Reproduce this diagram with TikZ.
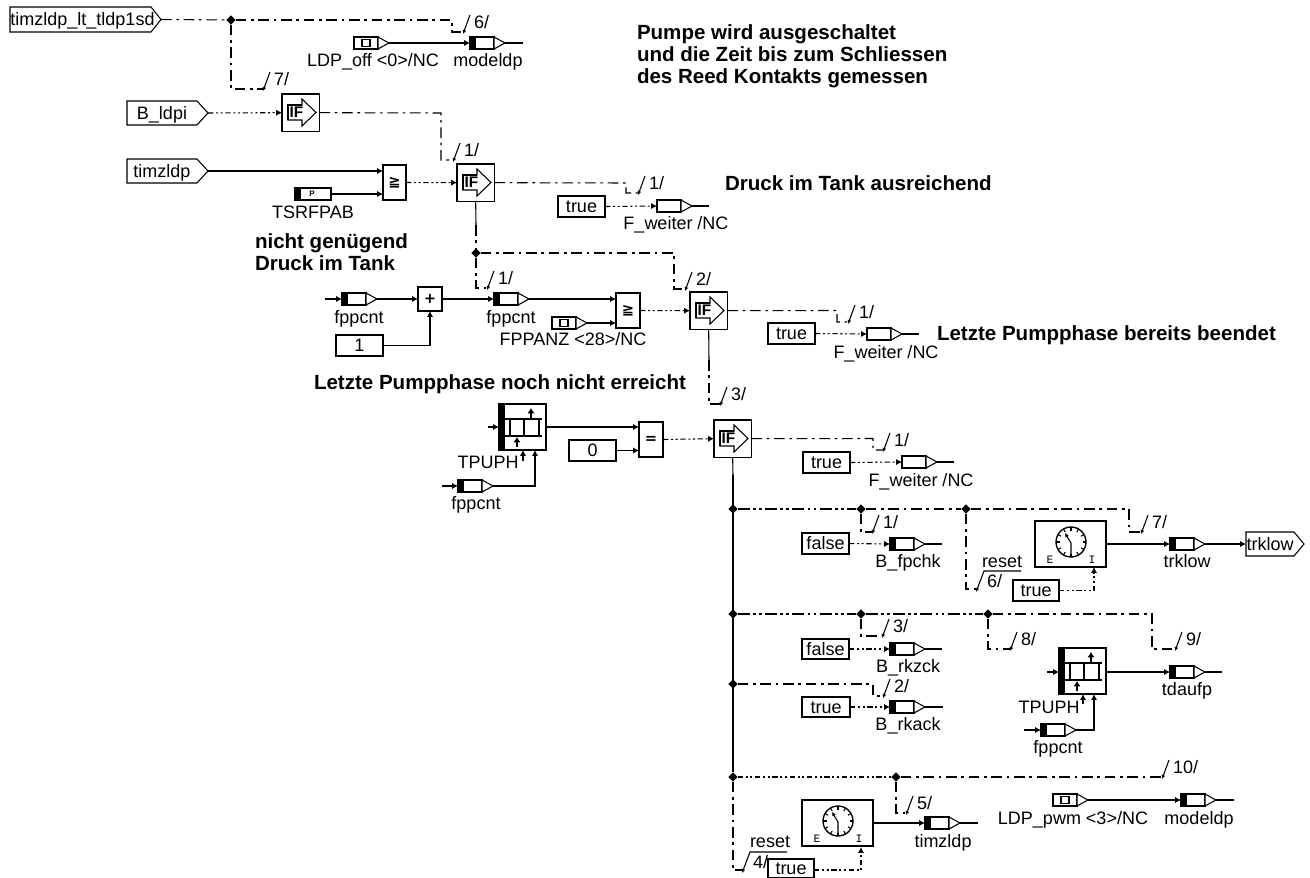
\documentclass[tikz,border=0pt]{standalone}
\usepackage{fontspec}
\setmainfont{Liberation Sans}
\newfontfamily\dvfont{DejaVu Sans}
\newfontfamily\mofont{Liberation Mono}
\usetikzlibrary{arrows.meta,shapes.geometric}
\tikzset{
  ln/.style={line width=0.8pt,line cap=butt},
  blk/.style={draw,ln,fill=white,inner sep=0pt,outer sep=0pt},
  lbl/.style={inner sep=0pt,outer sep=0pt,font=\fontsize{13.5}{15}\selectfont,text height=11pt,text depth=2pt},
  note/.style={inner sep=0pt,outer sep=0pt,font=\fontsize{15.4}{16.5}\selectfont\bfseries,align=left,anchor=north west},
  jct/.style={diamond,fill=black,inner sep=0pt,minimum width=7pt,minimum height=7pt,outer sep=0pt},
  wire/.style={ln},
  arr/.style={-{Latex[length=4.4pt,width=4.6pt]}},
  sig/.style={ln,dash pattern=on 8pt off 3.5pt on 2pt off 3.5pt},
  sigd/.style={ln,dash pattern=on 4pt off 2pt on 1.5pt off 2pt on 1.5pt off 2pt},
  sigt/.style={line width=1.2pt,dash pattern=on 9pt off 2.5pt on 2pt off 2.5pt on 2pt off 2.5pt},
  bus/.style={line width=1.5pt},
  slash/.style={ln,{Latex[length=3pt,width=3pt]}-},
}
% box: name x1 y1 x2 y2 text
\newcommand\Mbox[6]{\node[blk,minimum width={(#4-#2)*0.75pt},minimum height={(#5-#3)*0.75pt},font=\fontsize{13.5}{15}\selectfont,text height=11pt,text depth=2pt] (#1) at ({(#2+#4)/2},{(#3+#5)/2}) {#6};}
% symbol box: name x1 y1 x2 y2 symbol
\newcommand\Msym[6]{\node[blk,minimum width={(#4-#2)*0.75pt},minimum height={(#5-#3)*0.75pt}] (#1) at ({(#2+#4)/2},{(#3+#5)/2}) {\dvfont\bfseries\fontsize{11}{11}\selectfont #6};}
% variable with black bar: name x y
\newcommand\Mvar[3]{\node[blk,minimum width=18pt,minimum height=9pt,anchor=west] (#1) at (#2,#3) {};
  \fill ({#2},{#3-6}) rectangle ({#2+5.5},{#3+6});
  \draw[ln,fill=white] ({#2+24},{#3-6}) -- ({#2+35},{#3}) -- ({#2+24},{#3+6}) -- cycle;
  \coordinate (#1-o) at ({#2+35},{#3});}
% variable without bar
\newcommand\Mvarn[3]{\node[blk,minimum width=18pt,minimum height=9pt,anchor=west] (#1) at (#2,#3) {};
  \draw[ln,fill=white] ({#2+24},{#3-6}) -- ({#2+35},{#3}) -- ({#2+24},{#3+6}) -- cycle;
  \coordinate (#1-o) at ({#2+35},{#3});}
% constant
\newcommand\Mconst[3]{\node[blk,minimum width=18pt,minimum height=9pt,anchor=west] (#1) at (#2,#3) {};
  \draw[ln] ({#2+8},{#3-3.5}) rectangle ({#2+16},{#3+3.5});
  \draw[ln,fill=white] ({#2+24},{#3-6}) -- ({#2+35},{#3}) -- ({#2+24},{#3+6}) -- cycle;
  \coordinate (#1-o) at ({#2+35},{#3});}
% IF block: name x1 y1
\newcommand\Mif[3]{\node[blk,minimum width=28pt,minimum height=28pt,anchor=north west] (#1) at (#2,#3) {};
  \draw[ln] ({#2+6},{#3+11}) -- ({#2+20},{#3+11}) -- ({#2+20},{#3+5}) -- ({#2+34},{#3+18.5}) -- ({#2+20},{#3+32}) -- ({#2+20},{#3+26}) -- ({#2+6},{#3+26}) -- cycle;
  \draw[line width=1.3pt] ({#2+6},{#3+26}) -- ({#2+6},{#3+11}) -- ({#2+20},{#3+11});
  \node[inner sep=0pt,font=\fontsize{11.5}{12}\selectfont\bfseries] (#1-t) at ({#2+14.5},{#3+18.5}) {IF};}
% port: name x1 x2 tip y1 y2 text
\newcommand\Mport[7]{\draw[ln] (#2,#5) -- (#3,#5) -- (#4,{(#5+#6)/2}) -- (#3,#6) -- (#2,#6) -- cycle;
  \node[inner sep=0pt,outer sep=0pt,font=\fontsize{13.5}{15}\selectfont,text height=11pt,text depth=2pt,minimum width={(#3-#2)*0.75pt}] (#1) at ({(#2+#3)/2},{(#5+#6)/2}) {#7};
  \coordinate (#1-o) at (#4,{(#5+#6)/2});}
% bus tick: name x y label
\newcommand\Mtick[4]{\coordinate (#1) at (#2,#3);
  \draw[slash] ({#2},{#3+2}) -- ({#2+7},{#3-17});
  \node[lbl,anchor=west] (#1-l) at ({#2+11},{#3-10}) {#4};}
% reset tick: name x y overline-end label
\newcommand\Mrtick[5]{\coordinate (#1) at (#2,#3);
  \draw[slash] ({#2},{#3+3}) -- ({#2+8},{#3-18}) -- (#4,{#3-18});
  \node[lbl,anchor=west] (#1-l) at ({#2+11},{#3-8}) {#5};}
% shift register: name x y
\newcommand\Mreg[3]{\node[blk,minimum width=35.25pt,minimum height=34.5pt,anchor=north west] (#1) at (#2,#3) {};
  \fill ({#2},{#3}) rectangle ({#2+5.5},{#3+46});
  \draw[line width=1.3pt] ({#2+5},{#3+15}) -- ({#2+43},{#3+15}) ({#2+5},{#3+32}) -- ({#2+43},{#3+32})
     ({#2+11},{#3+15}) -- ({#2+11},{#3+32}) ({#2+25},{#3+15}) -- ({#2+25},{#3+32}) ({#2+40},{#3+15}) -- ({#2+40},{#3+32});
  \draw[line width=1.2pt,-{Latex[length=4pt,width=5.5pt]}] ({#2+32},{#3+15}) -- ({#2+32},{#3+4});
  \draw[line width=1.2pt,-{Latex[length=4pt,width=5.5pt]}] ({#2+18},{#3+43}) -- ({#2+18},{#3+33});}
% timer: name x1 y1
\newcommand\Mtimer[3]{\node[blk,minimum width=53.25pt,minimum height=34.5pt,anchor=north west] (#1) at (#2,#3) {};
  \draw[line width=1pt] ({#2+36},{#3+21}) circle [radius=15];
  \foreach \a in {0,30,...,330} \draw[ln] ({#2+36+15*cos(\a)},{#3+21+15*sin(\a)}) -- ({#2+36+11.5*cos(\a)},{#3+21+11.5*sin(\a)});
  \draw[ln,-{Latex[length=3pt,width=3pt]}] ({#2+36},{#3+36}) -- ({#2+36},{#3+22}) -- ({#2+30},{#3+12});
  \node[inner sep=0pt,font=\fontsize{8.5}{9}\mofont] (#1-e) at ({#2+15},{#3+39}) {E};
  \node[inner sep=0pt,font=\fontsize{8.5}{9}\mofont] (#1-i) at ({#2+57},{#3+39}) {I};}
\begin{document}
\begin{tikzpicture}[x=0.75pt,y=-0.75pt]
\useasboundingbox (0,0) rectangle (1310,878);

% blocks, top part
\Mport{Pt}{10}{151}{161}{7}{32}{\kern3pt timzldp\_lt\_tldp1sd}
\node[jct] (jA) at (231,20) {};
\Mtick{t6}{463}{32}{6/}
\Mconst{cLoff}{354}{43}
\Mvar{vMode}{470}{43}
\node[lbl] (lLoff) at (373,60) {LDP\_off <0>/NC};
\node[lbl] (lMode) at (488,60) {modeldp};
\Mtick{t7a}{263}{89}{7/}
\Mport{Pb}{127}{197}{208}{101}{125}{B\_ldpi}
\Mif{ifA}{282}{94}
\Mtick{t1a}{453}{160}{1/}
\Mport{Pz}{127}{197}{208}{159}{183}{timzldp}
\Msym{cmpA}{383}{165}{406}{200}{≧}
\node[blk,minimum width=27pt,minimum height=9pt,anchor=west] (vTs) at (295,194) {};
\fill (295,188) rectangle (301,200);
\node[inner sep=0pt,font=\fontsize{6}{6}\selectfont\bfseries] (vTsP) at (312,194) {P};
\node[lbl] (lTs) at (313,212) {TSRFPAB};
\Mif{ifB}{457}{164}
\Mtick{t1b}{638}{193}{1/}
\Mbox{bT1}{558}{196}{605}{217}{true}
\Mvarn{vF1}{657}{206}
\node[lbl] (lF1) at (676,223) {F\_weiter /NC};
\node[jct] (jB) at (476,253) {};
\Mtick{t1c}{487}{288}{1/}
\Mtick{t2c}{685}{289}{2/}
\Mvar{vFa}{342}{299}
\coordinate (vFaIn) at (325,299);
\node[lbl] (lFa) at (359,317) {fppcnt};
\Msym{plus}{418}{287}{442}{311}{+}
\Mbox{b1}{336}{335}{383}{356}{1}
\Mvar{vFb}{494}{299}
\node[lbl] (lFb) at (511,317) {fppcnt};
\Mconst{cFpp}{552}{323}
\node[lbl] (lFpp) at (573,339) {FPPANZ <28>/NC};
\Msym{cmpB}{616}{293}{640}{328}{≧}
\Mif{ifC}{690}{292}
\Mtick{t1d}{848}{322}{1/}
\Mbox{bT2}{768}{323}{815}{344}{true}
\Mvarn{vF2}{867}{334}
\node[lbl] (lF2) at (886,352) {F\_weiter /NC};
\Mtick{t3}{720}{404}{3/}
\Mreg{regA}{499}{404}
\coordinate (regAIn) at (488,427);
\node[lbl] (lReg) at (488,462) {TPUPH};
\coordinate (regAsm) at (523,461);
\Mvar{vFc}{458}{486}
\coordinate (vFcIn) at (442,486);
\node[lbl] (lFc) at (476,503) {fppcnt};
\Mbox{b0}{569}{440}{616}{461}{0}
\Msym{cmpC}{639}{422}{663}{457}{=}
\Mif{ifD}{714}{420}
\Mtick{t1e}{883}{450}{1/}
\Mbox{bT3}{803}{452}{850}{473}{true}
\Mvarn{vF3}{902}{462}
\node[lbl] (lF3) at (921,480) {F\_weiter /NC};

% right column
\node[jct] (j1) at (733,509) {};
\node[jct] (j1a) at (861,509) {};
\node[jct] (j1b) at (966,509) {};
\Mtick{t1f}{872}{532}{1/}
\Mtick{t7b}{1141}{532}{7/}
\Mbox{bFa}{802}{533}{849}{554}{false}
\Mvar{vBf}{890}{544}
\coordinate (vBfE) at (942,544);
\node[lbl] (lBf) at (908,561) {B\_fpchk};
\Mrtick{t6b}{976}{589}{1021}{6/}
\node[lbl] (lRa) at (1002,561) {reset};
\Mbox{bT4}{1013}{580}{1059}{601}{true}
\Mtimer{tmA}{1035}{521}
\Mvar{vTr}{1170}{544}
\node[lbl] (lTr) at (1187,561) {trklow};
\Mport{Ptr}{1246}{1294}{1304}{532}{556}{trklow}
\node[jct] (j2) at (733,614) {};
\node[jct] (j2a) at (861,614) {};
\node[jct] (j2b) at (988,614) {};
\Mtick{t3b}{882}{636}{3/}
\Mtick{t8}{1010}{649}{8/}
\Mtick{t9}{1175}{649}{9/}
\Mbox{bFb}{802}{639}{849}{659}{false}
\Mvar{vBz}{890}{649}
\coordinate (vBzE) at (942,649);
\node[lbl] (lBz) at (908,666) {B\_rkzck};
\Mreg{regB}{1059}{648}
\coordinate (regBIn) at (1047,672);
\node[lbl] (lRb) at (1049,707) {TPUPH};
\coordinate (regBsm) at (1083,704);
\Mvar{vTd}{1170}{672}
\coordinate (vTdE) at (1222,672);
\node[lbl] (lTd) at (1187,689) {tdaufp};
\node[jct] (j3) at (733,684) {};
\Mtick{t2b}{883}{696}{2/}
\Mbox{bT5}{802}{697}{850}{717}{true}
\Mvar{vBk}{890}{707}
\coordinate (vBkE) at (943,707);
\node[lbl] (lBk) at (908,724) {B\_rkack};
\Mvar{vFd}{1041}{730}
\coordinate (vFdIn) at (1024,730);
\node[lbl] (lFd) at (1058,747) {fppcnt};
\node[jct] (j4) at (733,777) {};
\node[jct] (j4a) at (896,777) {};
\Mtick{t10}{1162}{777}{10/}
\Mtick{t5}{906}{813}{5/}
\Mconst{cPwm}{1053}{800}
\node[lbl] (lPwm) at (1073,818) {LDP\_pwm <3>/NC};
\Mvar{vMo2}{1181}{800}
\coordinate (vMo2E) at (1234,800);
\node[lbl] (lMo2) at (1199,818) {modeldp};
\Mtimer{tmB}{802}{800}
\Mvar{vTz}{925}{823}
\coordinate (vTzE) at (978,823);
\node[lbl] (lTz) at (943,841) {timzldp};
\Mrtick{t4}{742}{870}{787}{4/}
\node[lbl] (lRc) at (770,841) {reset};
\Mbox{bT6}{768}{859}{814}{877.5}{true}

% free ends
\coordinate (vModeE) at (523,43);
\coordinate (vF1E) at (709,206);
\coordinate (vF2E) at (919,334);
\coordinate (vF3E) at (954,462);

% connectors
\draw[sig] (Pt-o) -- (jA);
\draw[sig] (jA) -- (452,20) -- (452,32) -- (t6);
\draw[sig] (jA) -- (231,89) -- (t7a);
\draw[wire,arr] (cLoff-o) -- (vMode.west);
\draw[wire] (vMode-o) -- (vModeE);
\draw[sigd,arr] (Pb-o) -- (ifA.west);
\draw[sig] (ifA.east) -- (441,113) -- (441,160) -- (t1a);
\draw[wire,arr] (Pz-o) -- (Pz-o -| cmpA.west);
\draw[wire,arr] (vTs.east) -- (vTs.east -| cmpA.west);
\draw[sigd,arr] (cmpA.east) -- (ifB.west);
\draw[sig] (ifB.east) -- (626,183) -- (626,193) -- (t1b);
\draw[sigd,arr] (bT1.east) -- (vF1.west);
\draw[wire] (vF1-o) -- (vF1E);
\draw[wire] (ifB.south) -- (476,225);
\draw[sig] (476,225) -- (jB);
\draw[sig] (jB) -- (476,288) -- (t1c);
\draw[sig] (jB) -- (674,253) -- (674,289) -- (t2c);
\draw[wire,arr] (vFaIn) -- (vFa.west);
\draw[wire,arr] (vFa-o) -- (plus.west);
\draw[wire,arr] (b1.east) -- (430,345.5) -- (plus.south);
\draw[wire,arr] (plus.east) -- (vFb.west);
\draw[wire,arr] (vFb-o) -- (vFb-o -| cmpB.west);
\draw[wire,arr] (cFpp-o) -- (cFpp-o -| cmpB.west);
\draw[sigd,arr] (cmpB.east) -- (ifC.west);
\draw[sig] (ifC.east) -- (837,310.5) -- (837,322) -- (t1d);
\draw[sigd,arr] (bT2.east) -- (vF2.west);
\draw[wire] (vF2-o) -- (vF2E);
\draw[wire] (ifC.south) -- (709,360);
\draw[sig] (709,360) -- (709,404) -- (t3);
\draw[wire,arr] (regAIn) -- (regAIn -| regA.west);
\draw[wire,arr] (regAIn -| regA.east) -- (regAIn -| cmpC.west);
\draw[wire,arr] (b0.east) -- (cmpC.west |- b0.east);
\draw[sigd,arr] (cmpC.east) -- (ifD.west);
\draw[wire,arr] (regAsm) -- (regAsm |- regA.south);
\draw[wire,arr] (vFcIn) -- (vFc.west);
\draw[wire,arr] (vFc-o) -- (535,486) -- (535,450);
\draw[sig] (ifD.east) -- (873,438.5) -- (873,450) -- (t1e);
\draw[sigd,arr] (bT3.east) -- (vF3.west);
\draw[wire] (vF3-o) -- (vF3E);
\draw[wire] (ifD.south) -- (733,475);
\draw[bus] (733,475) -- (j4);
\draw[sig] (j4) -- (733,870) -- (t4);
% row 1
\draw[sigt] (j1) -- (j1a);
\draw[sig] (j1a) -- (j1b);
\draw[sig] (j1b) -- (1129,509) -- (1129,532) -- (t7b);
\draw[sig] (j1a) -- (861,532) -- (t1f);
\draw[sigd,arr] (bFa.east) -- (vBf.west);
\draw[wire] (vBf-o) -- (vBfE);
\draw[sig] (j1b) -- (966,589) -- (t6b);
\draw[sigd,arr] (bT4.east) -- (1094,590.5) -- (1094,567);
\draw[wire,arr] (tmA.east) -- (vTr.west);
\draw[wire,arr] (vTr-o) -- (Ptr.west);
% row 2
\draw[sigt] (j2) -- (j2a);
\draw[sigt] (j2a) -- (j2b);
\draw[sig] (j2b) -- (1152,614) -- (1152,649) -- (t9);
\draw[sig] (j2b) -- (988,649) -- (t8);
\draw[sig] (j2a) -- (861,636) -- (t3b);
\draw[sigd,arr] (bFb.east) -- (vBz.west);
\draw[wire] (vBz-o) -- (vBzE);
\draw[wire,arr] (regBIn) -- (regBIn -| regB.west);
\draw[wire,arr] (regBIn -| regB.east) -- (vTd.west);
\draw[wire] (vTd-o) -- (vTdE);
\draw[wire,arr] (regBsm) -- (regBsm |- regB.south);
\draw[wire,arr] (vFdIn) -- (vFd.west);
\draw[wire,arr] (vFd-o) -- (1094,730) -- (1094,694);
% row 3
\draw[sig] (j3) -- (873,684) -- (873,696) -- (t2b);
\draw[sigd,arr] (bT5.east) -- (vBk.west);
\draw[wire] (vBk-o) -- (vBkE);
% row 4
\draw[sigd] (j4) -- (j4a);
\draw[sig] (j4a) -- (t10);
\draw[sig] (j4a) -- (896,813) -- (t5);
\draw[wire,arr] (cPwm-o) -- (vMo2.west);
\draw[wire] (vMo2-o) -- (vMo2E);
\draw[wire,arr] (tmB.east) -- (vTz.west);
\draw[wire] (vTz-o) -- (vTzE);
\draw[sigd,arr] (bT6.east |- 0,870) -- (861,870) -- (861,847);

% notes
\node[note] (n1) at (637,25) {Pumpe wird ausgeschaltet\\und die Zeit bis zum Schliessen\\des Reed Kontakts gemessen};
\node[note] (n2) at (725,176) {Druck im Tank ausreichend};
\node[note] (n3) at (255,234) {nicht genügend\\Druck im Tank};
\node[note] (n4) at (937,326) {Letzte Pumpphase bereits beendet};
\node[note] (n5) at (314,375) {Letzte Pumpphase noch nicht erreicht};
\end{tikzpicture}
\end{document}
